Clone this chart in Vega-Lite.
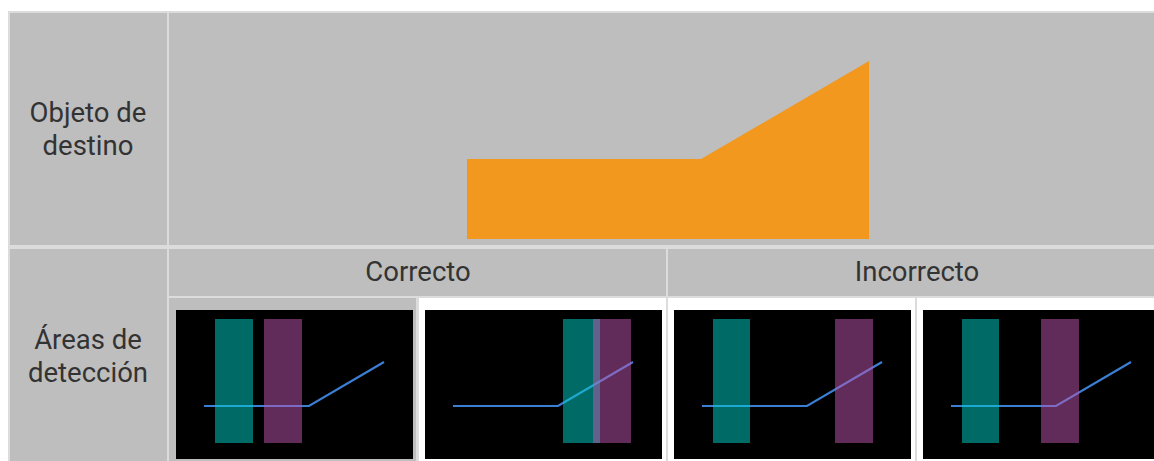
{
  "$schema": "https://vega.github.io/schema/vega-lite/v6.json",
  "width": 1154,
  "height": 461,
  "autosize": {"type": "fit", "contains": "padding"},
  "padding": 0,
  "background": "white",
  "config": {"view": {"stroke": null}},
  "datasets": {
    "frame": [{"x": 8, "x2": 1154, "y": 11, "y2": 461}],
    "grayCells": [
      {"x": 10, "x2": 167, "y": 13, "y2": 245},
      {"x": 169, "x2": 1154, "y": 13, "y2": 245},
      {"x": 10, "x2": 167, "y": 249, "y2": 461},
      {"x": 169, "x2": 666, "y": 249, "y2": 296},
      {"x": 668, "x2": 1154, "y": 249, "y2": 296},
      {"x": 169, "x2": 416, "y": 298, "y2": 461}
    ],
    "whiteCells": [
      {"x": 419, "x2": 666, "y": 298, "y2": 461},
      {"x": 668, "x2": 915, "y": 298, "y2": 461},
      {"x": 917, "x2": 1154, "y": 298, "y2": 461}
    ],
    "screens": [
      {"x": 176, "x2": 413, "y": 310, "y2": 459},
      {"x": 425, "x2": 662, "y": 310, "y2": 459},
      {"x": 674, "x2": 911, "y": 310, "y2": 459},
      {"x": 923, "x2": 1154, "y": 310, "y2": 459}
    ],
    "paths": [
      {"img": 1, "o": 1, "x": 204, "y": 406},
      {"img": 1, "o": 2, "x": 309, "y": 406},
      {"img": 1, "o": 3, "x": 384, "y": 362},
      {"img": 2, "o": 1, "x": 453, "y": 406},
      {"img": 2, "o": 2, "x": 558, "y": 406},
      {"img": 2, "o": 3, "x": 633, "y": 362},
      {"img": 3, "o": 1, "x": 702, "y": 406},
      {"img": 3, "o": 2, "x": 807, "y": 406},
      {"img": 3, "o": 3, "x": 882, "y": 362},
      {"img": 4, "o": 1, "x": 951, "y": 406},
      {"img": 4, "o": 2, "x": 1056, "y": 406},
      {"img": 4, "o": 3, "x": 1131, "y": 362}
    ],
    "teal": [
      {"x": 215, "x2": 253, "y": 319, "y2": 443},
      {"x": 563, "x2": 600, "y": 319, "y2": 443},
      {"x": 713, "x2": 750, "y": 319, "y2": 443},
      {"x": 962, "x2": 999, "y": 319, "y2": 443}
    ],
    "purple": [
      {"x": 264, "x2": 302, "y": 319, "y2": 443},
      {"x": 593, "x2": 631, "y": 319, "y2": 443},
      {"x": 835, "x2": 873, "y": 319, "y2": 443},
      {"x": 1041, "x2": 1079, "y": 319, "y2": 443}
    ],
    "target": [
      {"x": 467, "top": 159, "base": 239},
      {"x": 701, "top": 159, "base": 239},
      {"x": 869, "top": 61, "base": 239}
    ],
    "labels": [
      {"x": 88, "y": 114, "t": "Objeto de\ndestino"},
      {"x": 88, "y": 341, "t": "Áreas de\ndetección"},
      {"x": 418, "y": 273, "t": "Correcto"},
      {"x": 917, "y": 273, "t": "Incorrecto"}
    ]
  },
  "layer": [
    {
      "data": {"name": "frame"},
      "mark": {"type": "rect", "color": "#dcdcdc"},
      "encoding": {
        "x": {"field": "x", "type": "quantitative", "scale": {"domain": [0, 1154], "nice": false, "zero": false}, "axis": null},
        "x2": {"field": "x2"},
        "y": {"field": "y", "type": "quantitative", "scale": {"domain": [0, 461], "nice": false, "zero": false, "reverse": true}, "axis": null},
        "y2": {"field": "y2"}
      }
    },
    {
      "data": {"name": "grayCells"},
      "mark": {"type": "rect", "color": "#bebebe"},
      "encoding": {
        "x": {"field": "x", "type": "quantitative", "axis": null},
        "x2": {"field": "x2"},
        "y": {"field": "y", "type": "quantitative", "axis": null},
        "y2": {"field": "y2"}
      }
    },
    {
      "data": {"name": "whiteCells"},
      "mark": {"type": "rect", "color": "#ffffff"},
      "encoding": {
        "x": {"field": "x", "type": "quantitative", "axis": null},
        "x2": {"field": "x2"},
        "y": {"field": "y", "type": "quantitative", "axis": null},
        "y2": {"field": "y2"}
      }
    },
    {
      "data": {"name": "screens"},
      "mark": {"type": "rect", "color": "#000000"},
      "encoding": {
        "x": {"field": "x", "type": "quantitative", "axis": null},
        "x2": {"field": "x2"},
        "y": {"field": "y", "type": "quantitative", "axis": null},
        "y2": {"field": "y2"}
      }
    },
    {
      "data": {"name": "paths"},
      "mark": {"type": "line", "color": "#3b7fd4", "strokeWidth": 2.2},
      "encoding": {
        "x": {"field": "x", "type": "quantitative", "axis": null},
        "y": {"field": "y", "type": "quantitative", "axis": null},
        "detail": {"field": "img", "type": "nominal"},
        "order": {"field": "o", "type": "quantitative"}
      }
    },
    {
      "data": {"name": "teal"},
      "mark": {"type": "rect", "color": "#00d6cc", "opacity": 0.5},
      "encoding": {
        "x": {"field": "x", "type": "quantitative", "axis": null},
        "x2": {"field": "x2"},
        "y": {"field": "y", "type": "quantitative", "axis": null},
        "y2": {"field": "y2"}
      }
    },
    {
      "data": {"name": "purple"},
      "mark": {"type": "rect", "color": "#c258b4", "opacity": 0.5},
      "encoding": {
        "x": {"field": "x", "type": "quantitative", "axis": null},
        "x2": {"field": "x2"},
        "y": {"field": "y", "type": "quantitative", "axis": null},
        "y2": {"field": "y2"}
      }
    },
    {
      "data": {"name": "target"},
      "mark": {"type": "area", "color": "#f2981f", "interpolate": "linear"},
      "encoding": {
        "x": {"field": "x", "type": "quantitative", "axis": null},
        "y": {"field": "top", "type": "quantitative", "axis": null},
        "y2": {"field": "base"}
      }
    },
    {
      "data": {"name": "labels"},
      "mark": {"type": "text", "font": "Roboto", "fontSize": 27.5, "color": "#333333", "align": "center", "baseline": "middle", "lineBreak": "\n", "lineHeight": 33},
      "encoding": {
        "x": {"field": "x", "type": "quantitative", "axis": null},
        "y": {"field": "y", "type": "quantitative", "axis": null},
        "text": {"field": "t", "type": "nominal"}
      }
    }
  ]
}
